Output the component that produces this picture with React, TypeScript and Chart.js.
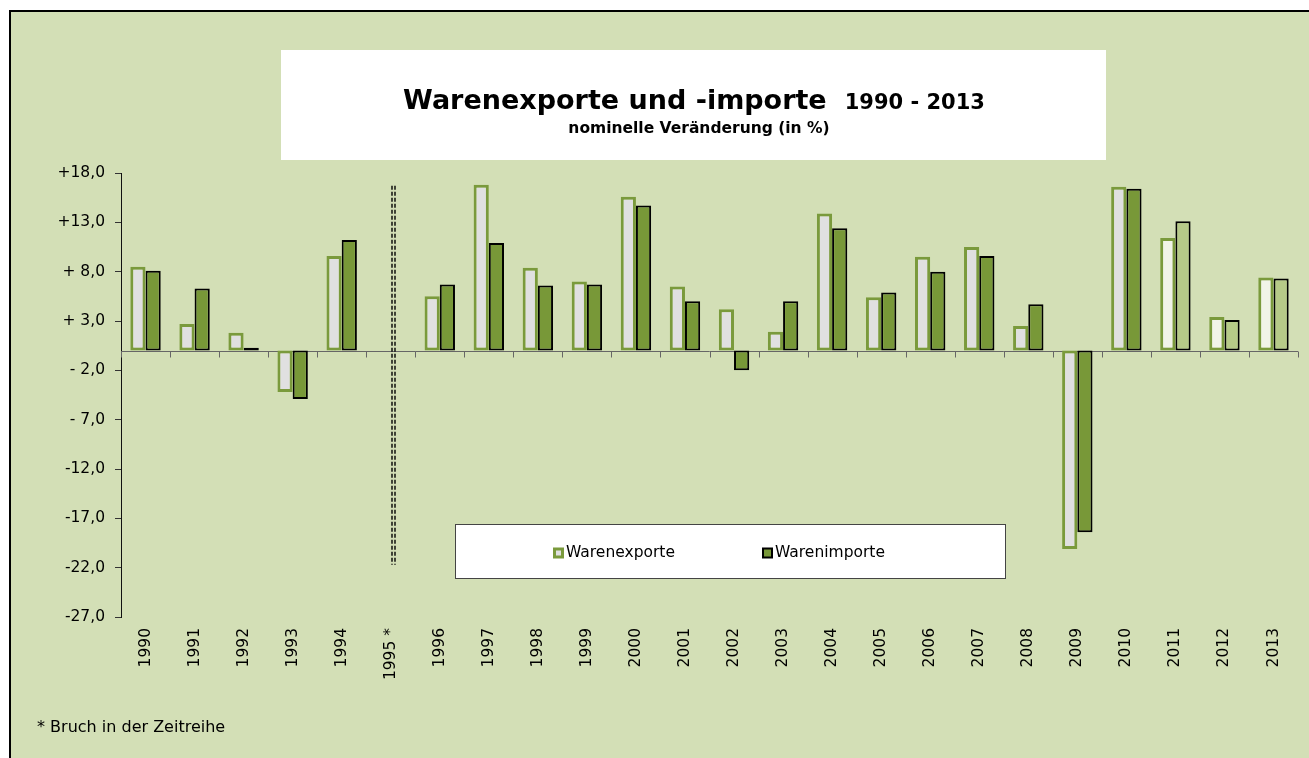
import React, { useEffect, useRef } from 'react';
import { Chart, registerables } from 'chart.js';

Chart.register(...registerables);

// ---------- data ----------
const years = ['1990', '1991', '1992', '1993', '1994', '1995 *', '1996', '1997', '1998', '1999', '2000', '2001', '2002', '2003', '2004', '2005', '2006', '2007', '2008', '2009', '2010', '2011', '2012', '2013'];
const exportsPct = [8.5, 2.7, 1.8, -4.2, 9.6, null, 5.5, 16.8, 8.4, 7.0, 15.6, 6.5, 4.2, 1.9, 13.9, 5.4, 9.5, 10.5, 2.5, -20.1, 16.6, 11.4, 3.4, 7.4];
const importsPct = [8.1, 6.3, 0.3, -4.9, 11.2, null, 6.7, 10.9, 6.6, 6.7, 14.7, 5.0, -2.0, 5.0, 12.4, 5.9, 8.0, 9.6, 4.7, -18.4, 16.4, 13.1, 3.1, 7.3];
const provisionalYears = ['2011', '2012', '2013'];
const seriesLabels = ['Warenexporte', 'Warenimporte'];
const yMin = -27;
const yMax = 18;
const yStep = 5;
const breakYear = '1995 *';
const breakFrom = 16.7;
const breakTo = -21.7;
const titleMain = 'Warenexporte und -importe';
const titleYears = '1990 - 2013';
const subtitle = 'nominelle Veränderung (in %)';
const footnote = '* Bruch in der Zeitreihe';

// ---------- styles ----------
const FONT = "'DejaVu Sans', sans-serif";
const PANEL_BG = '#D3DFB6';
const EXP_BORDER = '#7A9A3C';
const EXP_FILL = '#E0E0E0';
const EXP_FILL_PROV = '#F1F4E8';
const IMP_FILL = '#789838';
const IMP_FILL_PROV = '#B6CA88';
const IMP_BORDER = '#000000';

const fmt = (v: number) => {
  const a = Math.abs(v).toFixed(1).replace('.', ',');
  const sign = v >= 0 ? '+' : '-';
  return Math.abs(v) < 10 ? sign + ' ' + a : sign + a;
};

const decorPlugin = {
  id: 'decor',
  beforeDraw(chart: any) {
    const ctx = chart.ctx;
    const W = chart.width;
    const H = chart.height;
    ctx.save();
    ctx.fillStyle = '#ffffff';
    ctx.fillRect(0, 0, W, H);
    ctx.fillStyle = PANEL_BG;
    ctx.fillRect(10, 11, W, H);
    ctx.strokeStyle = '#000';
    ctx.lineWidth = 2;
    ctx.strokeRect(10, 11, W + 20, H + 20);

    // title box
    ctx.fillStyle = '#ffffff';
    ctx.fillRect(281, 50, 825, 110);
    ctx.fillStyle = '#000';
    ctx.textBaseline = 'alphabetic';
    ctx.font = `bold 27px ${FONT}`;
    const w1 = ctx.measureText(titleMain).width;
    ctx.font = `bold 21px ${FONT}`;
    const w2 = ctx.measureText(titleYears).width;
    const gap = 18;
    const total = w1 + gap + w2;
    const cx = 694;
    const x0 = cx - total / 2;
    ctx.textAlign = 'left';
    ctx.font = `bold 27px ${FONT}`;
    ctx.fillText(titleMain, x0, 109);
    ctx.font = `bold 21px ${FONT}`;
    ctx.fillText(titleYears, x0 + w1 + gap, 109);
    ctx.font = `bold 15.5px ${FONT}`;
    ctx.textAlign = 'center';
    ctx.fillText(subtitle, 699, 133);
    ctx.restore();
  },
  beforeDatasetsDraw(chart: any) {
    const ctx = chart.ctx;
    const xs = chart.scales.x;
    const ys = chart.scales.y;
    const y0 = Math.round(ys.getPixelForValue(0)) + 0.5;
    ctx.save();
    ctx.strokeStyle = '#666';
    ctx.lineWidth = 1;
    ctx.beginPath();
    ctx.moveTo(chart.chartArea.left, y0);
    ctx.lineTo(chart.chartArea.right, y0);
    for (let i = 0; i <= years.length; i++) {
      const px = Math.round(xs.getPixelForValue(i - 0.5)) + 0.5;
      ctx.moveTo(px, y0);
      ctx.lineTo(px, y0 + 6);
    }
    ctx.stroke();
    ctx.restore();
  },
  afterDraw(chart: any) {
    const ctx = chart.ctx;
    const xs = chart.scales.x;
    const ys = chart.scales.y;
    ctx.save();
    // break line
    const bx = Math.round(xs.getPixelForValue(years.indexOf(breakYear)));
    const yt = ys.getPixelForValue(breakFrom);
    const yb = ys.getPixelForValue(breakTo);
    ctx.strokeStyle = '#000';
    ctx.lineWidth = 1.4;
    ctx.setLineDash([4, 2]);
    ctx.beginPath();
    ctx.moveTo(bx + 1, yt);
    ctx.lineTo(bx + 1, yb);
    ctx.moveTo(bx + 4, yt);
    ctx.lineTo(bx + 4, yb);
    ctx.stroke();
    ctx.setLineDash([]);

    // legend
    ctx.fillStyle = '#fff';
    ctx.fillRect(455, 524, 550, 54);
    ctx.strokeStyle = '#444';
    ctx.lineWidth = 1;
    ctx.strokeRect(455.5, 524.5, 550, 54);
    const items = [
      { x: 553, label: seriesLabels[0], fill: EXP_FILL, border: EXP_BORDER, bw: 3 },
      { x: 762, label: seriesLabels[1], fill: IMP_FILL, border: IMP_BORDER, bw: 2 },
    ];
    const ly = 553;
    ctx.font = `15.5px ${FONT}`;
    ctx.textBaseline = 'middle';
    ctx.textAlign = 'left';
    items.forEach((it) => {
      ctx.fillStyle = it.border;
      ctx.fillRect(it.x, ly - 5.5, 11, 11);
      ctx.fillStyle = it.fill;
      ctx.fillRect(it.x + it.bw, ly - 5.5 + it.bw, 11 - 2 * it.bw, 11 - 2 * it.bw);
      ctx.fillStyle = '#000';
      ctx.fillText(it.label, it.x + 13, ly);
    });

    // footnote
    ctx.font = `16px ${FONT}`;
    ctx.textBaseline = 'middle';
    ctx.fillText(footnote, 37, 728);
    ctx.restore();
  },
};

export default function App() {
  const ref = useRef<HTMLCanvasElement | null>(null);
  useEffect(() => {
    if (!ref.current) return;
    const isProv = (i: number) => provisionalYears.includes(years[i]);
    const chart = new Chart(ref.current, {
      type: 'bar',
      data: {
        labels: years,
        datasets: [
          {
            label: seriesLabels[0],
            data: exportsPct,
            backgroundColor: years.map((_, i) => (isProv(i) ? EXP_FILL_PROV : EXP_FILL)),
            borderColor: EXP_BORDER,
            borderWidth: 3,
            borderSkipped: false,
          },
          {
            label: seriesLabels[1],
            data: importsPct,
            backgroundColor: years.map((_, i) => (isProv(i) ? IMP_FILL_PROV : IMP_FILL)),
            borderColor: IMP_BORDER,
            borderWidth: 2,
            borderSkipped: false,
          },
        ],
      },
      options: {
        responsive: false,
        animation: false,
        events: [],
        layout: { padding: { top: 173, right: 11, left: 0, bottom: 0 } },
        plugins: { legend: { display: false }, title: { display: false }, tooltip: { enabled: false } },
        datasets: { bar: { categoryPercentage: 0.62, barPercentage: 1.0 } },
        scales: {
          x: {
            type: 'category',
            grid: { display: false, drawTicks: false },
            border: { display: false },
            ticks: {
              autoSkip: false,
              minRotation: 90,
              maxRotation: 90,
              padding: 11,
              color: '#000',
              font: { family: FONT, size: 15.5 },
            },
            afterFit: (s: any) => {
              s.height = 141;
            },
          },
          y: {
            min: yMin,
            max: yMax,
            grid: { drawOnChartArea: false, drawTicks: true, tickLength: 6, tickColor: '#333' },
            border: { display: true, color: '#111', width: 1 },
            ticks: {
              stepSize: yStep,
              padding: 10,
              color: '#000',
              font: { family: FONT, size: 15.5 },
              callback: (v: any) => fmt(Number(v)),
            },
            afterFit: (s: any) => {
              s.width = 121;
            },
          },
        },
      },
      plugins: [decorPlugin],
    } as any);
    return () => chart.destroy();
  }, []);
  return (
    <div style={{ position: 'fixed', left: 0, top: 0, width: 1309, height: 758 }}>
      <canvas ref={ref} width={1309} height={758} style={{ width: 1309, height: 758, display: 'block' }} />
    </div>
  );
}
